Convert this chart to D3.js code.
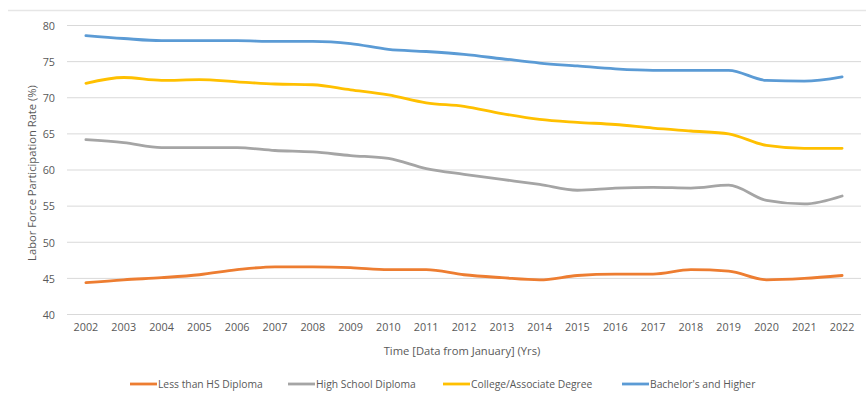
<!DOCTYPE html>
<html>
<head>
<meta charset="utf-8">
<script src="https://cdn.jsdelivr.net/npm/d3@7"></script>
<style>
  html, body { margin: 0; padding: 0; background: #fff; }
  svg { display: block; }
  text { font-family: "Open Sans", "Noto Sans", sans-serif; fill: #595959; }
</style>
</head>
<body>
<svg id="chart" width="867" height="400"></svg>
<script>
const years = [2002,2003,2004,2005,2006,2007,2008,2009,2010,2011,2012,2013,2014,2015,2016,2017,2018,2019,2020,2021,2022];
const lessThanHS = [44.4,44.8,45.1,45.5,46.2,46.6,46.6,46.5,46.2,46.2,45.5,45.1,44.8,45.4,45.6,45.6,46.2,46.0,44.8,45.0,45.4];
const highSchool = [64.2,63.8,63.1,63.1,63.1,62.7,62.5,62.0,61.6,60.2,59.4,58.7,58.0,57.2,57.5,57.6,57.5,57.9,55.8,55.3,56.4];
const college = [72.0,72.8,72.4,72.5,72.2,71.9,71.8,71.1,70.4,69.3,68.8,67.8,67.0,66.6,66.3,65.8,65.4,65.0,63.4,63.0,63.0];
const bachelors = [78.6,78.2,77.9,77.9,77.9,77.8,77.8,77.5,76.7,76.4,76.0,75.4,74.8,74.4,74.0,73.8,73.8,73.8,72.4,72.3,72.9];
const seriesNames = ["Less than HS Diploma","High School Diploma","College/Associate Degree","Bachelor's and Higher"];
const seriesColors = ["#ED7D31","#A5A5A5","#FFC000","#5B9BD5"];
const yTicks = [40,45,50,55,60,65,70,75,80];

const series = [lessThanHS, highSchool, college, bachelors].map((vals, i) => ({
  name: seriesNames[i], color: seriesColors[i], values: vals
}));

const svg = d3.select("#chart");
const plot = {left: 67, right: 861, top: 25.5, bottom: 314.5};

// top frame line
svg.append("line").attr("x1", 8).attr("x2", 866).attr("y1", 10.5).attr("y2", 10.5)
  .attr("stroke", "#e6e6e6").attr("stroke-width", 1.5);

const x = d3.scaleBand().domain(years).range([plot.left, plot.right]);
const y = d3.scaleLinear().domain([40, 80]).range([plot.bottom, plot.top]);

// gridlines
svg.append("g").selectAll("line").data(yTicks).join("line")
  .attr("x1", plot.left).attr("x2", plot.right)
  .attr("y1", d => y(d)).attr("y2", d => y(d))
  .attr("stroke", "#d9d9d9").attr("stroke-width", 1);

// y axis labels
const yAxis = d3.axisLeft(y).tickValues(yTicks).tickSize(0).tickPadding(0);
const yg = svg.append("g").attr("transform", `translate(${plot.left - 12},0)`).call(yAxis);
yg.select(".domain").remove();
yg.selectAll("text").style("font-size", "10.8px").attr("fill", "#595959").attr("dy", "0.35em");

// x axis labels
const xAxis = d3.axisBottom(x).tickSize(0).tickPadding(0);
const xg = svg.append("g").attr("transform", `translate(0,${plot.bottom + 9})`).call(xAxis);
xg.select(".domain").remove();
xg.selectAll("text").style("font-size", "10.8px").attr("fill", "#595959").attr("dy", "0.71em");

// axis titles
svg.append("text").attr("x", (plot.left + plot.right) / 2 - 2).attr("y", 355)
  .attr("text-anchor", "middle").style("font-size", "11.2px").text("Time [Data from January] (Yrs)");
svg.append("text").attr("transform", `translate(36,${(plot.top + plot.bottom) / 2 + 3}) rotate(-90)`)
  .attr("text-anchor", "middle").style("font-size", "11.2px").text("Labor Force Participation Rate (%)");

// lines
const line = d3.line()
  .x((d, i) => x(years[i]) + x.bandwidth() / 2)
  .y(d => y(d))
  .curve(d3.curveMonotoneX);

svg.append("g").selectAll("path").data(series).join("path")
  .attr("d", d => line(d.values))
  .attr("fill", "none")
  .attr("stroke", d => d.color)
  .attr("stroke-width", 2.8)
  .attr("stroke-linejoin", "round")
  .attr("stroke-linecap", "round");

// legend
const legendX = [130, 288, 443, 622];
const lg = svg.append("g").selectAll("g").data(series).join("g")
  .attr("transform", (d, i) => `translate(${legendX[i]},384)`);
lg.append("line").attr("x1", 0).attr("x2", 27).attr("y1", 0).attr("y2", 0)
  .attr("stroke", d => d.color).attr("stroke-width", 2.8);
lg.append("text").attr("x", 28).attr("y", 0).attr("dy", "0.35em")
  .style("font-size", "10.3px").text(d => d.name);
</script>
</body>
</html>
